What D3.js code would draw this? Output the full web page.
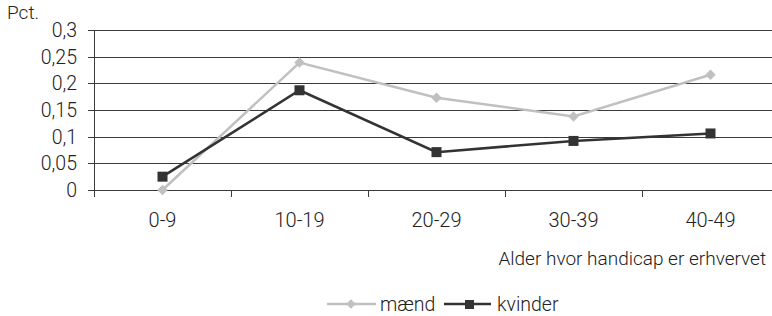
<!DOCTYPE html>
<html>
<head>
<meta charset="utf-8">
<script src="https://cdn.jsdelivr.net/npm/d3@7"></script>
<style>
  body { margin: 0; background: #fff; }
  text { font-family: Roboto, sans-serif; font-weight: 300; fill: #222; }
</style>
</head>
<body>
<svg id="chart" width="772" height="316"></svg>
<script>
// data
let categories = ['0-9', '10-19', '20-29', '30-39', '40-49'];
let maend = [0, 0.239, 0.173, 0.138, 0.216];
let kvinder = [0.025, 0.187, 0.071, 0.092, 0.106];
let yTicks = [0, 0.05, 0.1, 0.15, 0.2, 0.25, 0.3];

let svg = d3.select('#chart');
let plotLeft = 94, plotRight = 779, plotTop = 30, plotBottom = 190;

let x = d3.scaleBand().domain(categories).range([plotLeft, plotRight]);
let y = d3.scaleLinear().domain([0, 0.3]).range([plotBottom, plotTop]);
let fmt = d => d3.format('')(d).replace('.', ',');

// gridlines
svg.append('g')
    .selectAll('line')
    .data(yTicks)
    .enter().append('line')
    .attr('x1', plotLeft - 6).attr('x2', plotRight)
    .attr('y1', d => Math.round(y(d)) + 0.5)
    .attr('y2', d => Math.round(y(d)) + 0.5)
    .attr('stroke', '#3a3a3a')
    .attr('stroke-width', 1);

// y labels
svg.append('g')
    .selectAll('text')
    .data(yTicks)
    .enter().append('text')
    .attr('x', 77)
    .attr('y', d => y(d) + 7)
    .attr('text-anchor', 'end')
    .style('font-size', '19.5px')
    .text(fmt);

// y axis line
svg.append('line')
    .attr('x1', plotLeft + 0.5).attr('x2', plotLeft + 0.5)
    .attr('y1', plotTop).attr('y2', plotBottom + 7)
    .attr('stroke', '#3a3a3a');

// x ticks at band boundaries
svg.append('g')
    .selectAll('line')
    .data(categories.slice(1))
    .enter().append('line')
    .attr('x1', d => Math.round(x(d)) + 0.5)
    .attr('x2', d => Math.round(x(d)) + 0.5)
    .attr('y1', plotBottom).attr('y2', plotBottom + 7)
    .attr('stroke', '#3a3a3a');

// x labels
svg.append('g')
    .selectAll('text')
    .data(categories)
    .enter().append('text')
    .attr('x', d => x(d) + x.bandwidth() / 2)
    .attr('y', 227)
    .attr('text-anchor', 'middle')
    .style('font-size', '20px')
    .text(d => d);

svg.append('text').attr('x', 7).attr('y', 19).style('font-size', '19px').text('Pct.');
svg.append('text').attr('x', 766).attr('y', 265).attr('text-anchor', 'end')
    .style('font-size', '19px').text('Alder hvor handicap er erhvervet');

let cx = (d, i) => x(categories[i]) + x.bandwidth() / 2;
let line = d3.line().x(cx).y(d => y(d));

// mænd
svg.append('path').datum(maend)
    .attr('d', line).attr('fill', 'none')
    .attr('stroke', '#c0c0c0').attr('stroke-width', 2.5);
svg.append('g').selectAll('path')
    .data(maend).enter().append('path')
    .attr('d', d3.symbol(d3.symbolDiamond2, 70))
    .attr('transform', (d, i) => 'translate(' + cx(d, i) + ',' + y(d) + ')')
    .attr('fill', '#c0c0c0');

// kvinder
svg.append('path').datum(kvinder)
    .attr('d', line).attr('fill', 'none')
    .attr('stroke', '#333').attr('stroke-width', 2.5);
svg.append('g').selectAll('rect')
    .data(kvinder).enter().append('rect')
    .attr('x', (d, i) => cx(d, i) - 5)
    .attr('y', d => y(d) - 5)
    .attr('width', 10).attr('height', 10)
    .attr('fill', '#333');

// legend
let lg = svg.append('g');
lg.append('line').attr('x1', 327).attr('x2', 376).attr('y1', 304).attr('y2', 304)
    .attr('stroke', '#c0c0c0').attr('stroke-width', 2.5);
lg.append('path').attr('d', d3.symbol(d3.symbolDiamond2, 55))
    .attr('transform', 'translate(351,304)').attr('fill', '#c0c0c0');
lg.append('text').attr('x', 380).attr('y', 311).style('font-size', '19.5px').text('mænd');
lg.append('line').attr('x1', 444).attr('x2', 491).attr('y1', 304).attr('y2', 304)
    .attr('stroke', '#333').attr('stroke-width', 2.5);
lg.append('rect').attr('x', 465).attr('y', 300).attr('width', 9).attr('height', 9).attr('fill', '#333');
lg.append('text').attr('x', 497).attr('y', 311).style('font-size', '19.5px').text('kvinder');
</script>
</body>
</html>
